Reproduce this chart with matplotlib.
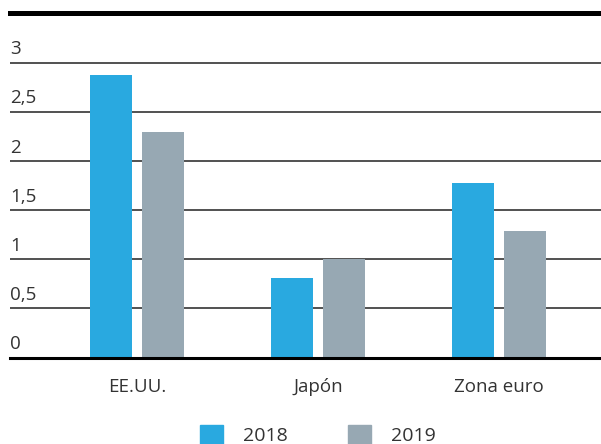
import matplotlib
matplotlib.use("Agg")
import matplotlib.pyplot as plt
import matplotlib.patches as mpatches
import numpy as np

plt.rcParams['font.family'] = ['Open Sans', 'DejaVu Sans']

categories = ['EE.UU.', 'Japón', 'Zona euro']
years = ['2018', '2019']
values_2018 = [2.87, 0.81, 1.78]
values_2019 = [2.29, 1.00, 1.29]
yticks = [0, 0.5, 1, 1.5, 2, 2.5, 3]
ytick_labels = ['0', '0,5', '1', '1,5', '2', '2,5', '3']

blue = '#29a9e0'
grey = '#97a8b3'
text_col = '#333333'

fig = plt.figure(figsize=(6.01, 4.44), dpi=100)
ax = fig.add_axes([10/601, 1 - 357.5/444, 591/601, 345/444])

x = np.arange(len(categories))
w = 0.232
off = 0.1436
ax.bar(x - off, values_2018, w, color=blue, zorder=3)
ax.bar(x + off, values_2019, w, color=grey, zorder=3)

ax.set_xlim(-0.7017, 2.5635)
ax.set_ylim(0, 3.51)

# gridlines with labels sitting above each line
for v in yticks[1:]:
    ax.axhline(v, color='#222222', lw=1.1, zorder=1)
for v, lab in zip(yticks, ytick_labels):
    ax.annotate(lab, xy=(0, v), xycoords=('axes fraction', 'data'),
                xytext=(0, 6), textcoords='offset points',
                ha='left', va='baseline', fontsize=13.5, color=text_col)

for s in ['left', 'right']:
    ax.spines[s].set_visible(False)
ax.spines['top'].set_linewidth(3.6)
ax.spines['top'].set_color('black')
ax.spines['bottom'].set_linewidth(2.2)
ax.spines['bottom'].set_color('black')
ax.spines['bottom'].set_zorder(4)

ax.set_yticks([])
ax.set_xticks(x)
ax.set_xticklabels(categories, fontsize=13.5, color=text_col)
ax.tick_params(axis='x', length=0, pad=15)

handles = [mpatches.Patch(color=blue), mpatches.Patch(color=grey)]
fig.legend(handles, years, loc='upper left',
           bbox_to_anchor=(200/601, 1 - 425/444), ncol=2, frameon=False,
           fontsize=14, handlelength=1.19, handleheight=1.19,
           handletextpad=1.03, columnspacing=3.1, borderpad=0,
           borderaxespad=0, labelcolor=text_col)

fig.savefig('out.png', dpi=100)
